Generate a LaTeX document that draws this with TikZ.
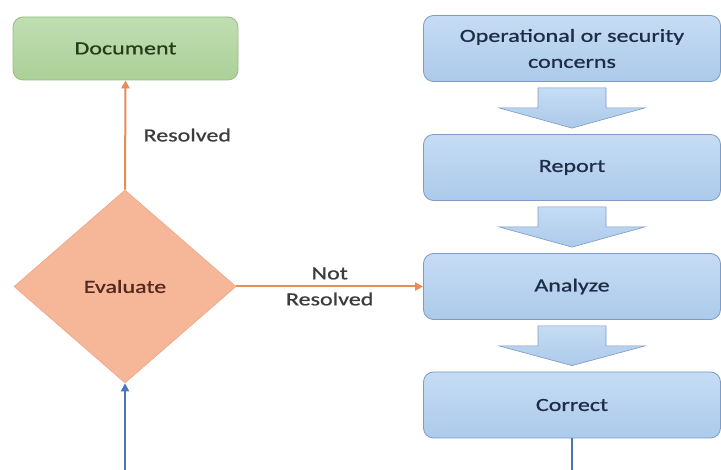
\documentclass[tikz,border=0pt]{standalone}
\usepackage{fontspec}
\setmainfont{Carlito}[FakeStretch=1.3,FakeBold=0.8]
\usetikzlibrary{shapes.geometric,arrows.meta,calc}
\definecolor{greentop}{RGB}{192,222,178}
\definecolor{greenbot}{RGB}{172,208,152}
\definecolor{greenline}{RGB}{150,190,130}
\definecolor{greentext}{RGB}{35,60,25}
\definecolor{bluetop}{RGB}{198,220,244}
\definecolor{bluebot}{RGB}{172,202,234}
\definecolor{blueline}{RGB}{125,155,195}
\definecolor{bluetext}{RGB}{30,45,70}
\definecolor{salmon}{RGB}{246,182,152}
\definecolor{salmonline}{RGB}{238,165,135}
\definecolor{evaltext}{RGB}{85,40,30}
\definecolor{orangearrow}{RGB}{232,140,85}
\definecolor{bluearrow}{RGB}{75,115,190}
\definecolor{labeltext}{RGB}{60,60,60}
\tikzset{
  txt/.style={font=\fontsize{18.5}{26}\selectfont, align=center},
  greenbox/.style={txt, rectangle, rounded corners=10pt, draw=greenline, line width=0.8pt,
    top color=greentop, bottom color=greenbot, text=greentext,
    minimum width=225pt, minimum height=63pt, inner sep=0pt},
  bluebox/.style={txt, rectangle, rounded corners=10pt, draw=blueline, line width=0.8pt,
    top color=bluetop, bottom color=bluebot, text=bluetext,
    minimum width=297pt, minimum height=66pt, inner sep=0pt},
  decision/.style={txt, diamond, draw=salmonline, fill=salmon, line width=0.6pt,
    text=evaltext, minimum width=222pt, minimum height=193pt, aspect=1.15, inner sep=0pt},
  lbl/.style={txt, text=labeltext},
  orangeconn/.style={draw=orangearrow, line width=2pt, -{Triangle[length=8pt,width=8pt]}},
  blueconn/.style={draw=bluearrow, line width=2pt},
  blockarrow/.style={draw=blueline, line width=0.6pt, top color=bluetop, bottom color=bluebot},
}
\newcommand{\blockarr}[2]{%
  \path[blockarrow] let \p1=(#1.south), \p2=(#2.north) in
    (\x1-34pt,\y1-6pt) -- (\x1+34pt,\y1-6pt) -- (\x1+34pt,\y1-26pt) -- (\x1+73pt,\y1-26pt)
    -- (\x2,\y2+6pt) -- (\x1-73pt,\y1-26pt) -- (\x1-34pt,\y1-26pt) -- cycle;}
\begin{document}
\begin{tikzpicture}[x=1pt,y=-1pt]
\useasboundingbox (0,0) rectangle (721,470);
\clip (0,0) rectangle (721,470);
\fill[white] (0,0) rectangle (721,470);
% left column
\node[greenbox] (doc) at (125.5,48.5) {Document};
\node[decision] (eval) at (125,286.5) {Evaluate};
% right column
\node[bluebox] (ops) at (572,48.5) {Operational or security\\concerns};
\node[bluebox] (rep) at (572,167.5) {Report};
\node[bluebox] (ana) at (572,286.5) {Analyze};
\node[bluebox] (cor) at (572,405) {Correct};
% block arrows
\blockarr{ops}{rep}
\blockarr{rep}{ana}
\blockarr{ana}{cor}
% connectors
\draw[orangeconn] (eval.north) -- node[lbl, anchor=west, xshift=14pt] (resl) {Resolved} (doc.south);
\draw[orangeconn] (eval.east) -- node[lbl] (notres) {Not\\Resolved} (ana.west);
\coordinate (loopR) at (572,490);
\coordinate (loopL) at (125,490);
\draw[blueconn, -{Triangle[length=8pt,width=8pt]}] (cor.south) -- (loopR) -- (loopL) -- (eval.south);
\end{tikzpicture}
\end{document}
